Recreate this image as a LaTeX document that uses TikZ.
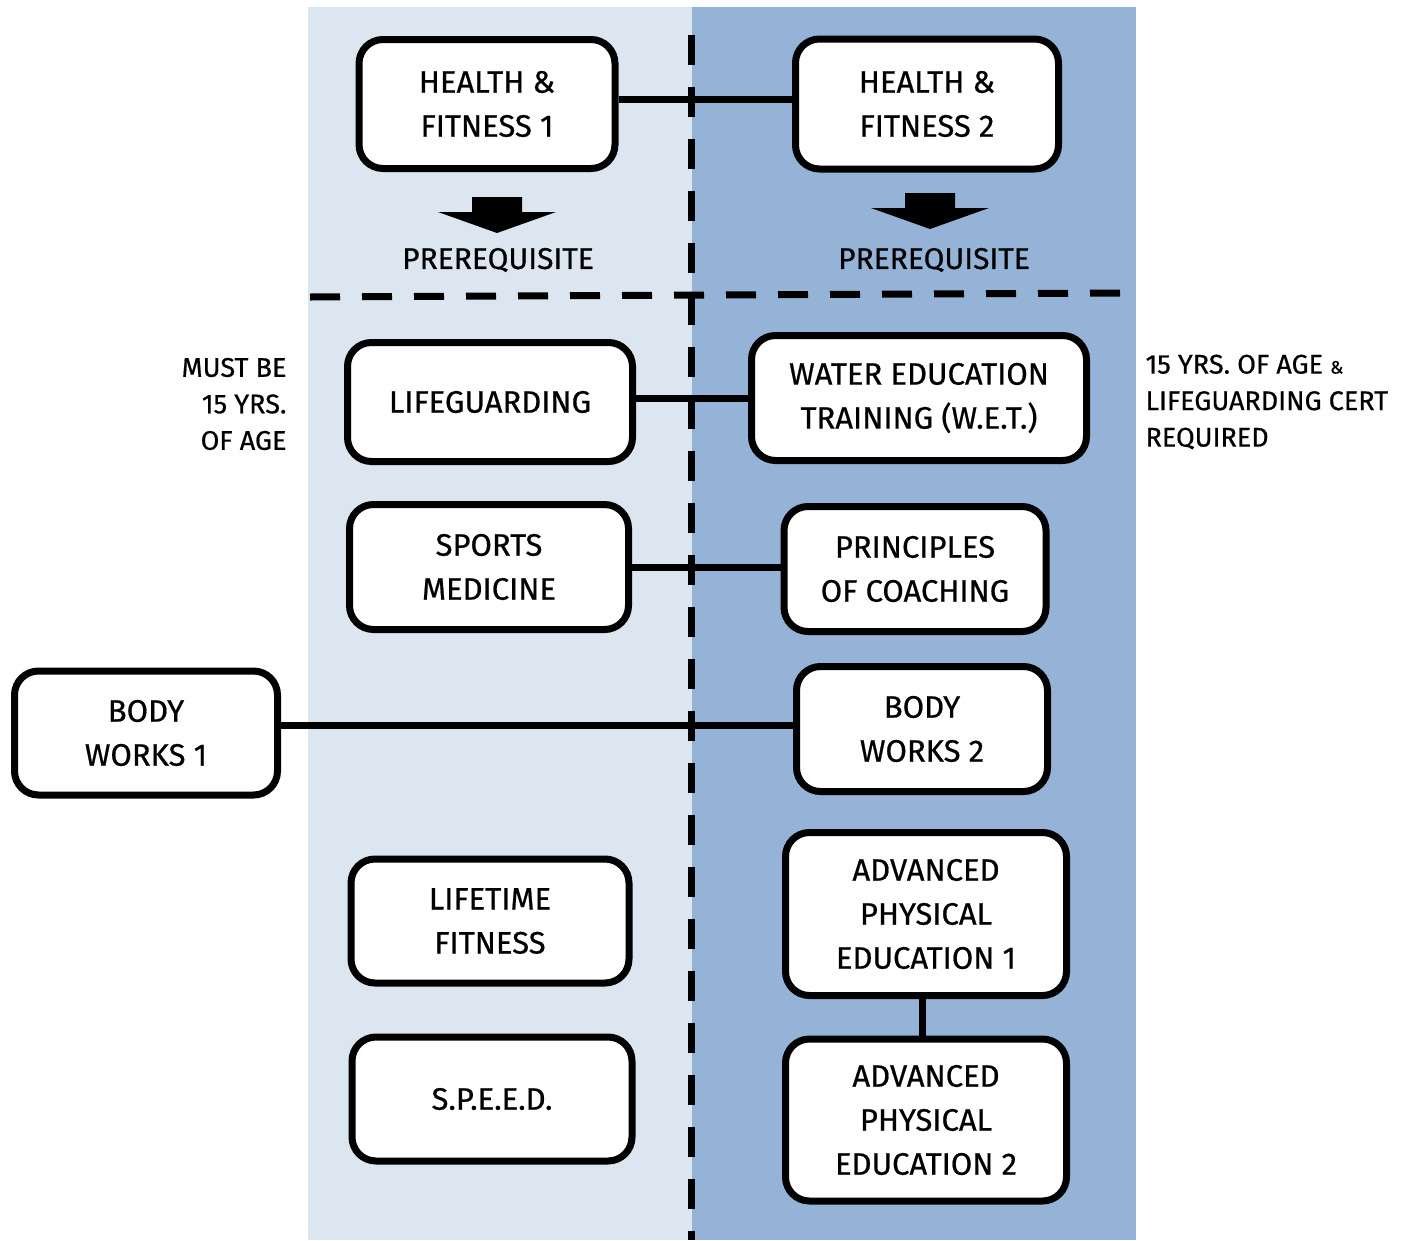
\documentclass[tikz,border=0pt]{standalone}
\usepackage{fontspec}
\setmainfont{Fira Sans}[UprightFeatures={FakeBold=0.6}]
\usepackage{tikz}
\definecolor{leftblue}{HTML}{DCE6F1}
\definecolor{rightblue}{HTML}{95B3D7}

\begin{document}
\begin{tikzpicture}
          [
            x=1pt,y=-1pt,
            course/.style={draw,line width=7pt,rounded corners=24pt,fill=white,
              align=center,font=\fontsize{31}{44}\selectfont},
            note/.style={font=\fontsize{27}{36.5}\selectfont},
            link/.style={line width=7pt},
            divider/.style={line width=7pt,dash pattern=on 30pt off 22pt}
          ]
          \useasboundingbox (0,0) rectangle (1413,1240);
          % columns
          \fill [leftblue] (308,7) rectangle (692,1240);
          \fill [rightblue] (692,7) rectangle (1136,1240);
          \draw [divider] (691,35) -- (691,1240);
          \draw [divider] (310,297) -- (1126,293);
          % health & fitness
          \node [course,minimum width=256pt,minimum height=129pt] (hf1) at (487,104) {HEALTH \&\\FITNESS 1};
          \node [course,minimum width=263pt,minimum height=130pt] (hf2) at (927,104) {HEALTH \&\\FITNESS 2};
          \foreach \x/\y in {497/197,930/193} {
              \fill (\x-25,\y) -- (\x+25,\y) -- (\x+25,\y+15) -- (\x+59,\y+15)
                -- (\x,\y+36) -- (\x-59,\y+15) -- (\x-25,\y+15) -- cycle;
          }
          \node [note,font=\fontsize{30}{36}\selectfont] (preleft) at (498,260) {PREREQUISITE};
          \node [note,font=\fontsize{30}{36}\selectfont] (preright) at (934,260) {PREREQUISITE};
          % water
          \node [course,minimum width=285pt,minimum height=119pt] (lifeguard) at (490,402) {LIFEGUARDING};
          \node [course,minimum width=335pt,minimum height=125pt] (wet) at (919,398) {WATER EDUCATION\\TRAINING (W.E.T.)};
          \node [note,align=right,anchor=east] (agenote) at (290,404) {MUST BE\\15 YRS.\\OF AGE};
          \node [note,align=left,anchor=west] (certnote) at (1142,402)
          {15 YRS. OF AGE {\fontsize{18}{18}\selectfont\&}\\LIFEGUARDING CERT\\REQUIRED};
          % sports
          \node [course,minimum width=279pt,minimum height=125pt] (sportsmed) at (489,567) {SPORTS\\MEDICINE};
          \node [course,minimum width=262pt,minimum height=125pt] (coaching) at (915,569) {PRINCIPLES\\OF COACHING};
          % body works
          \node [course,minimum width=263pt,minimum height=124pt] (bw1) at (146,733) {BODY\\WORKS 1};
          \node [course,minimum width=251pt,minimum height=125pt] (bw2) at (922,729) {BODY\\WORKS 2};
          % others
          \node [course,minimum width=278pt,minimum height=124pt] (lifetime) at (490,921) {LIFETIME\\FITNESS};
          \node [course,minimum width=280pt,minimum height=124pt] (speed) at (492,1099) {S.P.E.E.D.};
          \node [course,minimum width=281pt,minimum height=163pt] (ape1) at (926,914) {ADVANCED\\PHYSICAL\\EDUCATION 1};
          \node [course,minimum width=281pt,minimum height=162pt] (ape2) at (926,1120) {ADVANCED\\PHYSICAL\\EDUCATION 2};
          % links
          \draw [link] ([yshift=5pt]hf1.east) -- ([yshift=5pt]hf1.east -| hf2.west);
          \draw [link] (lifeguard.east |- wet.west) -- (wet.west);
          \draw [link] (sportsmed.east) -- (sportsmed.east -| coaching.west);
          \draw [link] ([yshift=4pt]bw2.west -| bw1.east) -- ([yshift=4pt]bw2.west);
          \draw [link] (ape1.south -| 922,0) -- (ape2.north -| 922,0);
\end{tikzpicture}
\end{document}
